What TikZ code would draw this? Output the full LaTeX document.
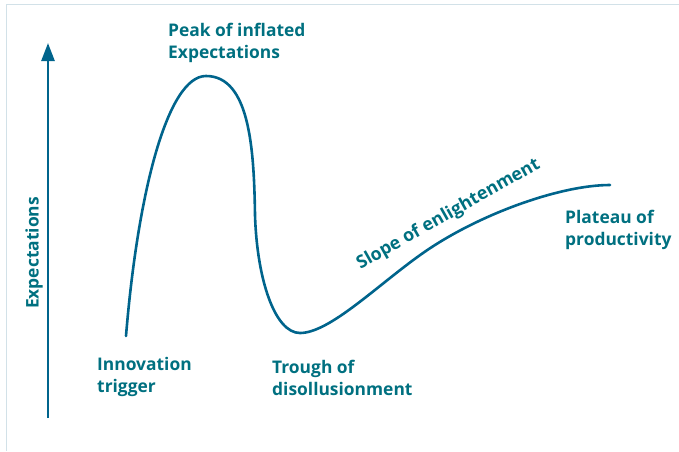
\documentclass[tikz,border=0pt]{standalone}
\usepackage{fontspec}
\setmainfont{Open Sans}
\usetikzlibrary{arrows.meta}
\definecolor{txt}{RGB}{0,112,128}
\definecolor{crv}{RGB}{0,100,140}
\definecolor{frm}{RGB}{210,225,232}
\tikzset{
  lbl/.style={text=txt, font=\fontsize{17.4}{22}\selectfont\bfseries, align=left, inner sep=0pt},
  curveline/.style={draw=crv, line width=2.6pt, line cap=round},
}
\begin{document}
\begin{tikzpicture}[x=1pt,y=-1pt]
\useasboundingbox (0,0) rectangle (679,451);
\draw[frm, line width=1.8pt] (6.5,451) -- (6.5,4.5) -- (679,4.5);
\coordinate (abot) at (48,418);
\coordinate (atop) at (48,43);
\draw[crv, line width=2.6pt, -{Triangle[width=13pt,length=18pt]}] (abot) -- (atop);
\node[lbl, rotate=90] (ylab) at (34,253) {Expectations};
\draw[curveline] (126,336) .. controls (138,190) and (168,76) .. (206,76)
  .. controls (250,76) and (254,150) .. (255,215)
  .. controls (257,280) and (275,333) .. (300,333)
  .. controls (330,333) and (378,284.5) .. (423,253)
  .. controls (478,214.5) and (560,185) .. (610,185);
\node[lbl, anchor=north west] (peak) at (168,23) {Peak of inflated\\Expectations};
\node[lbl, anchor=north west] (trig) at (97,357.5) {Innovation\\trigger};
\node[lbl, anchor=north west] (trough) at (272,359.5) {Trough of\\disollusionment};
\node[lbl, anchor=north west] (plat) at (565,209.5) {Plateau of\\productivity};
\node[lbl, font=\fontsize{17.8}{22}\selectfont\bfseries, rotate=29.5] (slope) at (448.5,214.5) {Slope of enlightenment};
\end{tikzpicture}
\end{document}
